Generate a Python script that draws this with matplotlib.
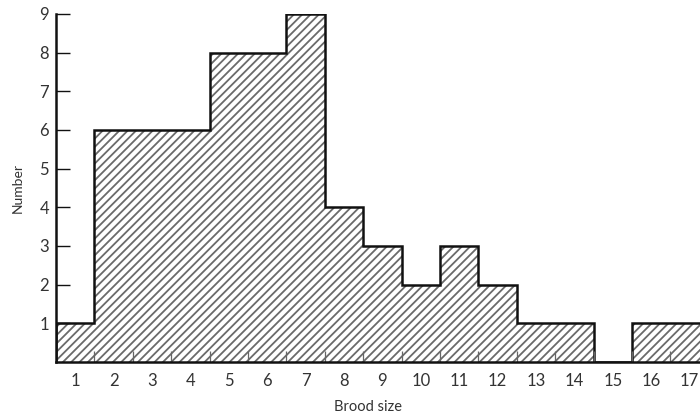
import matplotlib
matplotlib.use("Agg")
import matplotlib.pyplot as plt
import numpy as np

brood_size = [1, 2, 3, 4, 5, 6, 7, 8, 9, 10, 11, 12, 13, 14, 15, 16, 17]
number = [1, 6, 6, 6, 8, 8, 9, 4, 3, 2, 3, 2, 1, 1, 0, 1, 1]
y_ticks = [1, 2, 3, 4, 5, 6, 7, 8, 9]

plt.rcParams['font.family'] = ['Lato', 'DejaVu Sans']
plt.rcParams['hatch.color'] = '#6a6a6a'
plt.rcParams['hatch.linewidth'] = 1.3

fig = plt.figure(figsize=(7.0, 4.16), dpi=100)
ax = fig.add_axes([0.08, 0.13, 0.92, 0.8365])

edges = np.arange(len(brood_size) + 1) + 0.5
ax.stairs(number, edges, fill=True, facecolor='white', edgecolor='#6a6a6a',
          hatch='////', linewidth=0)
ax.stairs(number, edges, fill=False, color='#111111', linewidth=1.8, baseline=0)

ax.set_xlim(0.5, 17.27)
ax.set_ylim(0, 9)

for s in ['top', 'right']:
    ax.spines[s].set_visible(False)
for s in ['left', 'bottom']:
    ax.spines[s].set_linewidth(1.8)
    ax.spines[s].set_color('#111111')

# y ticks
ax.set_yticks(y_ticks)
ax.set_yticklabels([str(v) for v in y_ticks])
ax.tick_params(axis='y', direction='in', length=10, width=1.0, colors='#111111',
               labelcolor='#333333', labelsize=12, pad=5)

# x ticks: marks at bin edges, labels at centers
ax.set_xticks(edges[1:-1])
ax.set_xticklabels([])
ax.tick_params(axis='x', which='major', direction='in', length=8, width=0.9,
               colors='#666666')
ax.set_xticks(brood_size, minor=True)
ax.set_xticklabels([str(v) for v in brood_size], minor=True)
ax.tick_params(axis='x', which='minor', length=0, labelcolor='#333333',
               labelsize=12, pad=8)

ax.set_ylabel('Number', fontsize=10, color='#333333')
ax.yaxis.set_label_coords(-0.05, 0.5)
ax.set_xlabel('Brood size', fontsize=10.5, color='#333333')
ax.xaxis.set_label_coords(0.485, -0.11)

fig.savefig('out.png', dpi=100)
